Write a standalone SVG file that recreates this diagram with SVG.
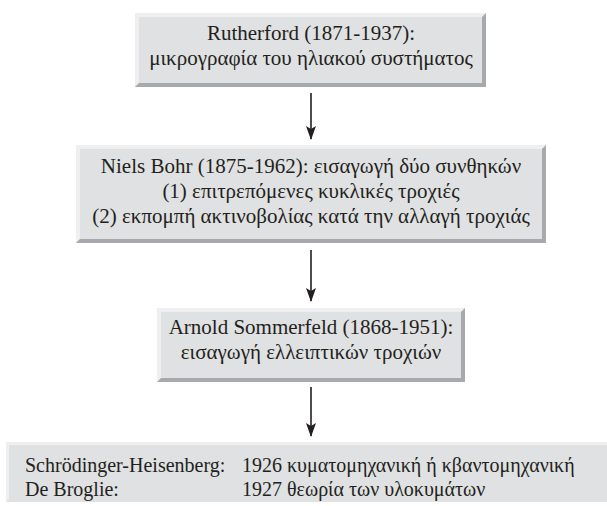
<svg xmlns="http://www.w3.org/2000/svg" width="607" height="506" viewBox="0 0 607 506">
<defs>
<style>
.face{fill:#e0e1e2}
.lite{fill:#efefef}
.dark{fill:#a7a9ac}
text{font-family:"Liberation Serif","DejaVu Serif",serif;font-size:20px;fill:#231f20}
.c{text-anchor:middle;font-size:21px}
.conn line{stroke:#231f20;stroke-width:1.6}
</style>
<marker id="ah" viewBox="0 0 14 10" refX="13" refY="5" markerWidth="14" markerHeight="10" markerUnits="userSpaceOnUse" orient="auto">
<path d="M0,0 L14,5 L0,10 L3,5 Z" fill="#231f20"/>
</marker>
</defs>
<rect width="607" height="506" fill="#ffffff"/>

<g id="rutherford">
<rect class="face" x="135" y="13" width="351" height="74"/>
<polygon class="lite" points="135,13 486,13 482,17 139,17 139,83 135,87"/>
<polygon class="dark" points="486,13 486,87 135,87 139,83 482,83 482,17"/>
<text class="c" x="311" y="40">Rutherford (1871-1937):</text>
<text class="c" x="311" y="65">μικρογραφία του ηλιακού συστήματος</text>
</g>

<g id="bohr">
<rect class="face" x="76" y="145" width="470" height="98"/>
<polygon class="lite" points="76,145 546,145 542,149 80,149 80,239 76,243"/>
<polygon class="dark" points="546,145 546,243 76,243 80,239 542,239 542,149"/>
<text class="c" x="311" y="173">Niels Bohr (1875-1962): εισαγωγή δύο συνθηκών</text>
<text class="c" x="311" y="198">(1) επιτρεπόμενες κυκλικές τροχιές</text>
<text class="c" x="311" y="223">(2) εκπομπή ακτινοβολίας κατά την αλλαγή τροχιάς</text>
</g>

<g id="sommerfeld">
<rect class="face" x="157" y="308" width="308" height="74"/>
<polygon class="lite" points="157,308 465,308 461,312 161,312 161,378 157,382"/>
<polygon class="dark" points="465,308 465,382 157,382 161,378 461,378 461,312"/>
<text class="c" x="311" y="334">Arnold Sommerfeld (1868-1951):</text>
<text class="c" x="311" y="359">εισαγωγή ελλειπτικών τροχιών</text>
</g>

<g id="quantum">
<rect class="face" x="6" y="442" width="601" height="60"/>
<polygon class="lite" points="6,442 607,442 607,445 9,445 9,499 6,502"/>
<text x="25" y="472">Schrödinger-Heisenberg:</text>
<text x="242" y="472">1926 κυματομηχανική ή κβαντομηχανική</text>
<text x="25" y="496">De Broglie:</text>
<text x="242" y="496">1927 θεωρία των υλοκυμάτων</text>
</g>

<g id="connectors" class="conn">
<line x1="311" y1="93" x2="311" y2="139" marker-end="url(#ah)"/>
<line x1="311" y1="250" x2="311" y2="301" marker-end="url(#ah)"/>
<line x1="311" y1="387" x2="311" y2="436" marker-end="url(#ah)"/>
</g>
</svg>
